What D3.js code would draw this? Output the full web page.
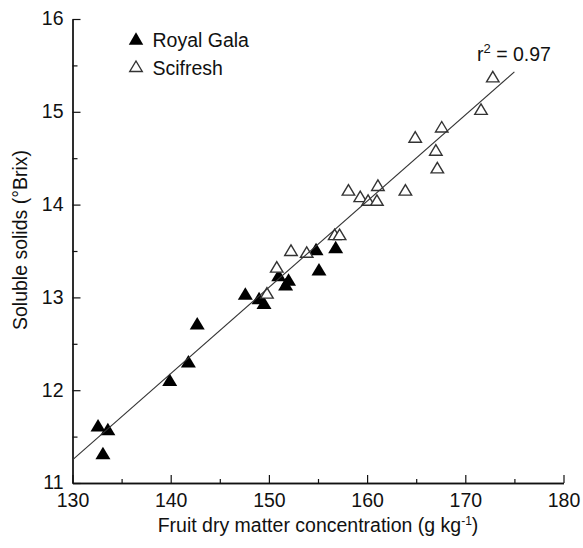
<!DOCTYPE html>
<html><head><meta charset="utf-8">
<script src="https://cdn.jsdelivr.net/npm/d3@7/dist/d3.min.js"></script>
<style>
html,body{margin:0;padding:0;background:#fff;}
text{font-family:"Liberation Sans",Arial,Helvetica,sans-serif;fill:#111;}
</style></head>
<body>
<svg id="chart" width="583" height="548"></svg>
<script>
// Data
const royalGalaX = [132.6, 133.6, 133.1, 139.9, 141.8, 142.7, 147.6, 149.0, 149.5, 151.0, 152.0, 151.7, 154.8, 155.1, 156.8];
const royalGalaY = [11.60, 11.56, 11.30, 12.09, 12.29, 12.70, 13.02, 12.97, 12.92, 13.22, 13.17, 13.12, 13.50, 13.28, 13.52];
const scifreshX = [149.8, 150.8, 152.25, 153.85, 156.7, 157.2, 158.1, 159.3, 160.1, 161.0, 161.1, 163.9, 164.9, 167.0, 167.15, 167.6, 171.6, 172.8];
const scifreshY = [13.03, 13.31, 13.49, 13.47, 13.66, 13.66, 14.14, 14.07, 14.03, 14.03, 14.19, 14.14, 14.71, 14.57, 14.38, 14.82, 15.01, 15.36];
const fitX = [130, 175];
const fitY = [11.25, 15.43];
const xTicks = [130, 140, 150, 160, 170, 180];
const xMinorTicks = [135, 145, 155, 165, 175];
const yTicks = [11, 12, 13, 14, 15, 16];
const yMinorTicks = [11.5, 12.5, 13.5, 14.5, 15.5];
const seriesNames = ["Royal Gala", "Scifresh"];
const r2Value = "0.97";

const svg = d3.select("#chart");
const x = d3.scaleLinear().domain([130, 180]).range([72.5, 563.5]);
const y = d3.scaleLinear().domain([11, 16]).range([483, 19]);
const FS = 19.5;

function tri(w, h) {
  return `M0,${-2*h/3}L${w/2},${h/3}L${-w/2},${h/3}Z`;
}

// Axes
const gx = svg.append("g").attr("transform", `translate(0,${y(11)})`);
gx.call(d3.axisBottom(x).tickValues(xTicks).tickSize(-8).tickSizeOuter(0).tickFormat(d3.format("d")));
gx.append("g").call(d3.axisBottom(x).tickValues(xMinorTicks).tickSize(-4).tickSizeOuter(0).tickFormat(""));
gx.selectAll(".domain").attr("stroke", "#111").attr("stroke-width", 1.3);
gx.selectAll(".tick line").attr("stroke", "#111").attr("stroke-width", 1.2);
gx.selectAll(".tick text").attr("y", 10).attr("dy", "0.71em").style("font-size", FS + "px").attr("font-family", null);

const gy = svg.append("g").attr("transform", `translate(${x(130)},0)`);
gy.call(d3.axisLeft(y).tickValues(yTicks).tickSize(-8).tickSizeOuter(0).tickFormat(d3.format("d")));
gy.append("g").call(d3.axisLeft(y).tickValues(yMinorTicks).tickSize(-5).tickSizeOuter(0).tickFormat(""));
gy.selectAll(".domain").attr("stroke", "#111").attr("stroke-width", 1.3);
gy.selectAll(".tick line").attr("stroke", "#111").attr("stroke-width", 1.2);
gy.selectAll(".tick text").attr("x", -9).attr("dy", "0.3em").style("font-size", FS + "px").attr("font-family", null);

// Axis titles
const xt = svg.append("text").attr("x", 318).attr("y", 532).attr("text-anchor", "middle").style("font-size", FS + "px");
xt.append("tspan").text("Fruit dry matter concentration (g kg");
xt.append("tspan").attr("dy", -7).style("font-size", "12px").text("-1");
xt.append("tspan").attr("dy", 7).text(")");

svg.append("text").attr("transform", "translate(27,240) rotate(-90)").attr("text-anchor", "middle")
  .style("font-size", FS + "px").text("Soluble solids (\u00B0Brix)");

// Points
const rg = royalGalaX.map((v, i) => ({x: v, y: royalGalaY[i]}));
const sf = scifreshX.map((v, i) => ({x: v, y: scifreshY[i]}));

svg.append("g").selectAll("path").data(rg).join("path")
  .attr("d", tri(15, 12.5)).attr("transform", d => `translate(${x(d.x)},${y(d.y)})`)
  .attr("fill", "#000");

svg.append("g").selectAll("path").data(sf).join("path")
  .attr("d", tri(12.5, 10.5)).attr("transform", d => `translate(${x(d.x)},${y(d.y)})`)
  .attr("fill", "#fff").attr("stroke", "#333").attr("stroke-width", 1.4);

// Fit line
const fit = fitX.map((v, i) => ({x: v, y: fitY[i]}));
svg.append("path").datum(fit).attr("d", d3.line().x(d => x(d.x)).y(d => y(d.y)))
  .attr("fill", "none").attr("stroke", "#333").attr("stroke-width", 1.1);

// r2 label
const rt = svg.append("text").attr("x", 477).attr("y", 61).style("font-size", FS + "px");
rt.append("tspan").text("r");
rt.append("tspan").attr("dy", -8).style("font-size", "13px").text("2");
rt.append("tspan").attr("dy", 8).text(" = " + r2Value);

// Legend
const leg = svg.append("g");
leg.append("path").attr("d", tri(14.5, 12.5)).attr("transform", "translate(136,40.5)").attr("fill", "#000");
leg.append("path").attr("d", tri(12.5, 10.5)).attr("transform", "translate(136,68)").attr("fill", "#fff").attr("stroke", "#333").attr("stroke-width", 1.4);
leg.append("text").attr("x", 152.5).attr("y", 47).style("font-size", FS + "px").text(seriesNames[0]);
leg.append("text").attr("x", 152.5).attr("y", 75).style("font-size", FS + "px").text(seriesNames[1]);
</script>
</body></html>
